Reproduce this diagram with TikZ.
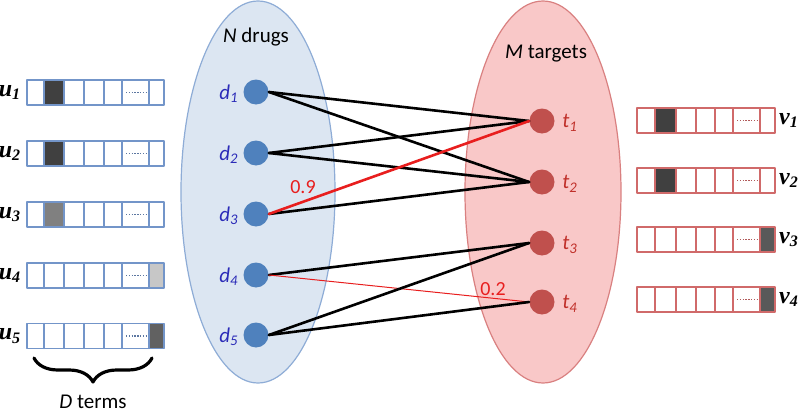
\documentclass[tikz,border=0pt]{standalone}
\usepackage{fontspec}
\setmainfont{Carlito}
\newfontfamily\vecfont{Liberation Serif}
\usetikzlibrary{decorations.pathreplacing}

\definecolor{drugfill}{HTML}{DCE6F2}
\definecolor{drugline}{HTML}{8EACD6}
\definecolor{drugdot}{HTML}{4F81BD}
\definecolor{druglabel}{HTML}{2B2BB8}
\definecolor{tgtfill}{HTML}{F9C8C8}
\definecolor{tgtline}{HTML}{D98080}
\definecolor{tgtdot}{HTML}{C0504D}
\definecolor{tgtlabel}{HTML}{C0302A}
\definecolor{vecblue}{HTML}{7395C9}
\definecolor{vecred}{HTML}{D06A6A}
\definecolor{hotred}{HTML}{E81E1E}

\begin{document}
\begin{tikzpicture}[x=0.5pt,y=-0.5pt,line cap=round,line join=round,
    drug/.style={circle,fill=drugdot,inner sep=0pt,minimum size=12.5pt},
    tgt/.style={circle,fill=tgtdot,inner sep=0pt,minimum size=12.5pt},
    dlab/.style={text=druglabel,font=\fontsize{10.5}{12}\selectfont\itshape},
    tlab/.style={text=tgtlabel,font=\fontsize{10.5}{12}\selectfont\itshape},
    wlab/.style={text=hotred,font=\fontsize{10}{11}\selectfont},
    vlab/.style={font=\fontsize{12}{14}\vecfont\bfseries\itshape},
    link/.style={line width=1.3pt,black},
    cell/.style={line width=0.6pt},
    dots/.style={line width=0.7pt,line cap=butt,dash pattern=on 0.7pt off 0.7pt}]
  \useasboundingbox (0,0) rectangle (800,412);
  % the two groups
  \draw[fill=drugfill,draw=drugline,line width=0.6pt] (258,192) ellipse [x radius=38.5pt,y radius=95.5pt];
  \draw[fill=tgtfill,draw=tgtline,line width=0.6pt] (543,192) ellipse [x radius=39pt,y radius=95.5pt];
  \node[font=\fontsize{10.5}{12}\selectfont] (ntitle) at (256,37) {\textit{N} drugs};
  \node[font=\fontsize{10.5}{12}\selectfont] (mtitle) at (546,54) {\textit{M} targets};
  % drugs and targets
  \foreach \i/\y in {1/92,2/153,3/214,4/275,5/335} {
    \node[drug] (d\i) at (256,\y) {};
    \node[dlab] (dl\i) at (229,\y+2) {d\textsubscript{\i}};
  }
  \foreach \i/\y in {1/121,2/182,3/243,4/302} {
    \node[tgt] (t\i) at (542,\y) {};
    \node[tlab] (tl\i) at (570,\y+2) {t\textsubscript{\i}};
  }
  \draw[link] (d1.east) -- (t1.west);
  \draw[link] (d1.east) -- (t2.west);
  \draw[link] (d2.east) -- (t1.west);
  \draw[link] (d2.east) -- (t2.west);
  \draw[link] (d3.east) -- (t2.west);
  \draw[link,hotred] (d3.east) -- (t1.west);
  \draw[link] (d4.east) -- (t3.west);
  \draw[line width=0.5pt,hotred] (d4.east) -- (t4.west);
  \draw[link] (d5.east) -- (t3.west);
  \draw[link] (d5.east) -- (t4.west);
  \node[wlab] (w1) at (303,187) {0.9};
  \node[wlab] (w2) at (493,289) {0.2};
  % drug vectors
  \foreach \n/\y/\a/\b/\c in {1/92.5/44/64/black!75,2/153.5/44/64/black!75,3/214.5/44/64/black!50,
      4/275.5/149/164/black!22,5/336/149/164/black!62} {
    \fill[\c] (\a,\y-12.5) rectangle (\b,\y+12.5);
    \draw[cell,vecblue] (27,\y-12.5) rectangle (164,\y+12.5);
    \foreach \x in {44,64,84,104,122,149}
      \draw[cell,vecblue] (\x,\y-12.5) -- (\x,\y+12.5);
    \draw[dots,vecblue!80!black] (126,\y) -- (146,\y);
    \node[vlab] (u\n) at (10,\y) {u\textsubscript{\n}};
  }
  % target vectors
  \foreach \n/\y/\a/\b/\c in {1/120.5/655/676/black!75,2/180.5/655/676/black!75,
      3/239.5/760/775/black!65,4/299.5/760/775/black!65} {
    \fill[\c] (\a,\y-12.5) rectangle (\b,\y+12.5);
    \draw[cell,vecred] (637,\y-12.5) rectangle (775,\y+12.5);
    \foreach \x in {655,676,696,715,733,760}
      \draw[cell,vecred] (\x,\y-12.5) -- (\x,\y+12.5);
    \draw[dots,vecred!85!black] (737,\y) -- (757,\y);
    \node[vlab] (v\n) at (789,\y) {v\textsubscript{\n}};
  }
  % the D terms
  \draw[line width=1.6pt,decorate,decoration={brace,mirror,amplitude=12pt}] (34,358) -- (152,358);
  \node[font=\fontsize{10.5}{12}\selectfont] (dterms) at (93,402) {\textit{D} terms};
\end{tikzpicture}
\end{document}
